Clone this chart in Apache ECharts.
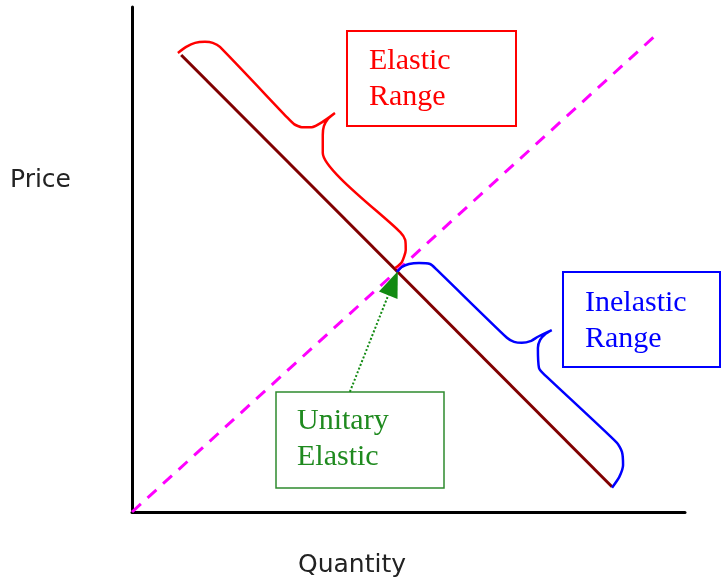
<!DOCTYPE html>
<html>
<head>
<meta charset="utf-8">
<script src="https://cdn.jsdelivr.net/npm/echarts@6/dist/echarts.min.js"></script>
<style>
  html, body { margin: 0; padding: 0; background: #fff; }
  #chart { width: 722px; height: 578px; }
</style>
</head>
<body>
<div id="chart"></div>
<script>
// axis titles
var xTitle = 'Quantity';
var yTitle = 'Price';

// demand curve (brown) and unit-elastic ray (magenta dashed)
var demandX = [0.89, 8.68];
var demandY = [9.05, 0.50];
var unitX = [0, 9.53];
var unitY = [0, 9.50];

// brace along the upper (elastic) part of the demand line
var elasticX = [0.83, 0.98, 1.14, 1.32, 1.46, 1.59, 2.80, 2.93, 3.07, 3.25, 3.44, 3.67, 3.54, 3.47, 3.45, 3.45, 4.85, 4.94, 4.95, 4.88, 4.76];
var elasticY = [9.09, 9.21, 9.29, 9.31, 9.29, 9.21, 7.82, 7.68, 7.62, 7.62, 7.72, 7.90, 7.78, 7.64, 7.47, 7.11, 5.54, 5.39, 5.19, 4.95, 4.83];

// brace along the lower (inelastic) part
var inelasticX = [4.79, 4.88, 5.01, 5.19, 5.39, 5.50, 6.78, 6.91, 7.05, 7.22, 7.34, 7.59, 7.47, 7.38, 7.34, 7.36, 7.43, 8.77, 8.86, 8.88, 8.81, 8.68];
var inelasticY = [4.75, 4.85, 4.91, 4.93, 4.91, 4.81, 3.45, 3.37, 3.35, 3.39, 3.47, 3.60, 3.52, 3.41, 3.25, 2.85, 2.75, 1.37, 1.19, 0.93, 0.69, 0.48];

// arrow from the "Unitary Elastic" box to the crossing point
var arrowFrom = [3.94, 2.38];
var arrowTo = [4.72, 4.53];

// box labels
var elasticLabel = 'Elastic\nRange';
var inelasticLabel = 'Inelastic\nRange';
var unitaryLabel = 'Unitary\nElastic';

function zip(xs, ys) {
  return xs.map(function (x, i) { return [x, ys[i]]; });
}

var chart = echarts.init(document.getElementById('chart'));

var hiddenAxis = {
  type: 'value',
  min: 0,
  max: 10,
  axisLine: { show: true, onZero: false, lineStyle: { color: '#000', width: 3 } },
  axisTick: { show: false },
  axisLabel: { show: false },
  splitLine: { show: false }
};

var serif = '30px "Liberation Serif", "Times New Roman", serif';
var sans = '25px "DejaVu Sans", Verdana, sans-serif';

chart.setOption({
  animation: false,
  backgroundColor: '#fff',
  grid: { left: 132, right: 37, top: 7, bottom: 66 },
  xAxis: hiddenAxis,
  yAxis: hiddenAxis,
  series: [
    {
      type: 'line',
      data: zip(unitX, unitY),
      symbol: 'none',
      lineStyle: { color: '#ff00ff', width: 3, type: [12, 9] }
    },
    {
      type: 'line',
      data: zip(demandX, demandY),
      symbol: 'none',
      lineStyle: { color: '#800000', width: 3 }
    },
    {
      type: 'line',
      data: zip(elasticX, elasticY),
      symbol: 'none',
      smooth: 0.2,
      lineStyle: { color: '#ff0000', width: 2.5 }
    },
    {
      type: 'line',
      data: zip(inelasticX, inelasticY),
      symbol: 'none',
      smooth: 0.2,
      lineStyle: { color: '#0000ff', width: 2.5 }
    },
    {
      type: 'line',
      data: [],
      markLine: {
        silent: true,
        animation: false,
        label: { show: false },
        lineStyle: { color: '#128a12', width: 2, type: 'dotted' },
        data: [[
          { coord: arrowFrom, symbol: 'none' },
          { coord: arrowTo, symbol: 'triangle', symbolSize: [20, 26] }
        ]]
      }
    }
  ],
  graphic: [
    { type: 'text', style: { text: yTitle, x: 10, y: 180, font: sans, fill: '#222', verticalAlign: 'middle' } },
    { type: 'text', style: { text: xTitle, x: 298, y: 565, font: sans, fill: '#222', verticalAlign: 'middle' } },

    { type: 'rect', shape: { x: 347, y: 31, width: 169, height: 95 }, style: { fill: 'none', stroke: '#ff0000', lineWidth: 2 } },
    { type: 'text', style: { text: elasticLabel, x: 369, y: 43, font: serif, lineHeight: 36, fill: '#ff0000', verticalAlign: 'top' } },

    { type: 'rect', shape: { x: 563, y: 272, width: 157, height: 95 }, style: { fill: 'none', stroke: '#0000ff', lineWidth: 2 } },
    { type: 'text', style: { text: inelasticLabel, x: 585, y: 285, font: serif, lineHeight: 36, fill: '#0000ff', verticalAlign: 'top' } },

    { type: 'rect', shape: { x: 276, y: 392, width: 168, height: 96 }, style: { fill: 'none', stroke: '#2e8b2e', lineWidth: 1.5 } },
    { type: 'text', style: { text: unitaryLabel, x: 297, y: 403, font: serif, lineHeight: 36, fill: '#1f8a1f', verticalAlign: 'top' } }
  ]
});
</script>
</body>
</html>
